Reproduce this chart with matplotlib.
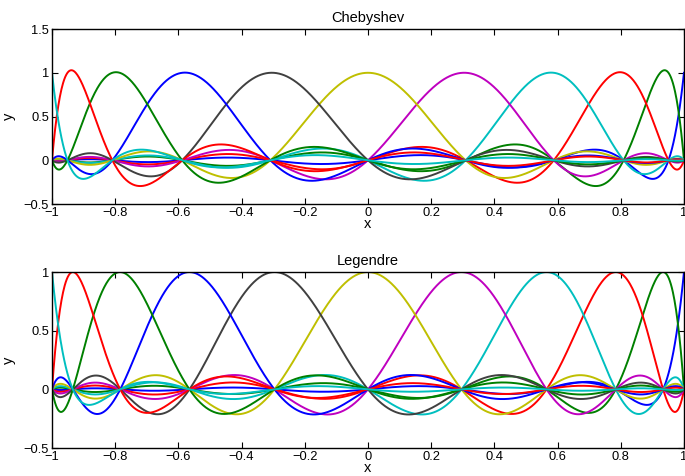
"""Lagrange cardinal polynomials on Chebyshev and Legendre nodes."""

import matplotlib
matplotlib.use("Agg")
import matplotlib.pyplot as plt
import numpy as np

# node positions (ordered from x=1 down to x=-1)
cheb_nodes = [1.0, 0.951, 0.809, 0.588, 0.309, 0.0, -0.309, -0.588, -0.809, -0.951, -1.0]
leg_nodes = [1.0, 0.934, 0.784, 0.565, 0.296, 0.0, -0.296, -0.565, -0.784, -0.934, -1.0]

colors = ["#0000ff", "#008000", "#ff0000", "#00bfbf", "#bf00bf", "#bfbf00", "#404040"]
xticks = [-1, -0.8, -0.6, -0.4, -0.2, 0, 0.2, 0.4, 0.6, 0.8, 1]
xticklabels = ["\u22121", "\u22120.8", "\u22120.6", "\u22120.4", "\u22120.2", "0",
               "0.2", "0.4", "0.6", "0.8", "1"]

plt.rcParams.update({
    "font.family": ["Liberation Sans", "DejaVu Sans"],
    "font.size": 9.3,
    "xtick.direction": "in",
    "ytick.direction": "in",
    "xtick.top": True,
    "ytick.right": True,
    "xtick.major.size": 4,
    "ytick.major.size": 4,
    "axes.linewidth": 1.0,
})


def cardinal(nodes, x):
    nodes = np.asarray(nodes)
    out = []
    for j, xj in enumerate(nodes):
        L = np.ones_like(x)
        for m, xm in enumerate(nodes):
            if m != j:
                L *= (x - xm) / (xj - xm)
        out.append(L)
    return out


x = np.linspace(-1, 1, 1200)

fig = plt.figure(figsize=(6.85, 4.76), dpi=100)
ax1 = fig.add_axes([0.0759, 0.5714, 0.9226, 0.3676])
ax2 = fig.add_axes([0.0759, 0.0588, 0.9226, 0.3697])

panels = [
    (ax1, cheb_nodes, "Chebyshev", (-0.5, 1.5), [-0.5, 0, 0.5, 1, 1.5], ["\u22120.5", "0", "0.5", "1", "1.5"]),
    (ax2, leg_nodes, "Legendre", (-0.5, 1.0), [-0.5, 0, 0.5, 1], ["\u22120.5", "0", "0.5", "1"]),
]

for ax, nodes, title, ylim, yt, ytl in panels:
    for j, L in enumerate(cardinal(nodes, x)):
        ax.plot(x, L, color=colors[j % len(colors)], lw=1.4)
    ax.set_xlim(-1, 1)
    ax.set_ylim(*ylim)
    ax.set_xticks(xticks)
    ax.set_xticklabels(xticklabels)
    ax.set_yticks(yt)
    ax.set_yticklabels(ytl)
    ax.tick_params(pad=2)
    ax.set_title(title, fontsize=10.5, pad=5)
    ax.set_xlabel("x", fontsize=10.5, labelpad=-1)
    ax.set_ylabel("y", fontsize=10.5, labelpad=6)

fig.savefig("out.png", dpi=100)
